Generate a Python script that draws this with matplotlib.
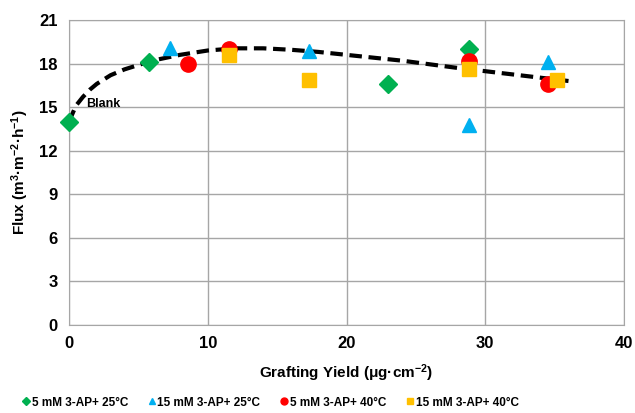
import numpy as np
import matplotlib
matplotlib.use('Agg')
import matplotlib.pyplot as plt

plt.rcParams['font.family'] = ['Liberation Sans', 'DejaVu Sans']
plt.rcParams['font.weight'] = 'bold'
plt.rcParams['mathtext.fontset'] = 'custom'
plt.rcParams['mathtext.rm'] = 'Liberation Sans:bold'
plt.rcParams['mathtext.bf'] = 'Liberation Sans:bold'
plt.rcParams['mathtext.default'] = 'bf'

# data
x_5_25 = [0, 5.8, 23.0, 28.8]
y_5_25 = [14.0, 18.1, 16.6, 19.0]

x_15_25 = [7.3, 17.3, 28.8, 34.5]
y_15_25 = [19.1, 18.9, 13.8, 18.1]

x_5_40 = [8.6, 11.5, 28.8, 34.5]
y_5_40 = [18.0, 19.0, 18.2, 16.6]

x_15_40 = [11.5, 17.3, 28.8, 35.2]
y_15_40 = [18.6, 16.9, 17.6, 16.9]

# trend line
trend_x = [0, 0.5, 1, 1.5, 2, 3, 4, 6, 8, 10, 12, 14, 16, 18, 20, 24, 28, 32, 36]
trend_y = [14.0, 15.1, 15.7, 16.2, 16.6, 17.2, 17.6, 18.2, 18.6, 18.9, 19.05, 19.05,
           18.95, 18.8, 18.6, 18.2, 17.7, 17.25, 16.8]

fig = plt.figure(figsize=(6.35, 4.13), dpi=100)
ax = fig.add_axes([69/635, 1-325/413, 555/635, 305/413])

ax.plot(trend_x, trend_y, '--', color='black', lw=3, dashes=(3, 1.6), zorder=2)

ax.plot(x_5_25, y_5_25, 'D', color='#00B050', ms=9, ls='none', zorder=3, clip_on=False)
ax.plot(x_15_25, y_15_25, '^', color='#00B0F0', ms=9.5, ls='none', zorder=3, clip_on=False)
ax.plot(x_5_40, y_5_40, 'o', color='#FF0000', ms=11, ls='none', zorder=3, clip_on=False)
ax.plot(x_15_40, y_15_40, 's', color='#FFC000', ms=10.5, ls='none', zorder=4, clip_on=False)

ax.text(1.2, 15.2, 'Blank', fontsize=9, fontweight='bold', va='center')

ax.set_xlim(0, 40)
ax.set_ylim(0, 21)
ax.set_xticks([0, 10, 20, 30, 40])
ax.set_yticks(range(0, 22, 3))
ax.grid(True, color='#A6A6A6', lw=1)
ax.set_axisbelow(True)
for s in ax.spines.values():
    s.set_color('#A6A6A6')
ax.tick_params(length=0, labelsize=12, pad=8)

ax.set_xlabel('Grafting Yield (μg·cm$^{-2}$)', fontsize=11, fontweight='bold', labelpad=8)
ax.set_ylabel('Flux (m$^{3}$·m$^{-2}$·h$^{-1}$)', fontsize=11, fontweight='bold', labelpad=6)

# legend
h1, = ax.plot([], [], 'D', color='#00B050', ms=4)
h2, = ax.plot([], [], '^', color='#00B0F0', ms=5)
h3, = ax.plot([], [], 'o', color='#FF0000', ms=5)
h4, = ax.plot([], [], 's', color='#FFC000', ms=5)
fig.legend([h1, h2, h3, h4],
           ['5 mM 3-AP+ 25°C', '15 mM 3-AP+ 25°C', '5 mM 3-AP+ 40°C', '15 mM 3-AP+ 40°C'],
           loc='lower center', bbox_to_anchor=(0.425, -0.015), ncol=4, frameon=False,
           fontsize=8.5, handletextpad=0.1, columnspacing=1.6, handlelength=0.8)

fig.savefig('out.png', dpi=100)
